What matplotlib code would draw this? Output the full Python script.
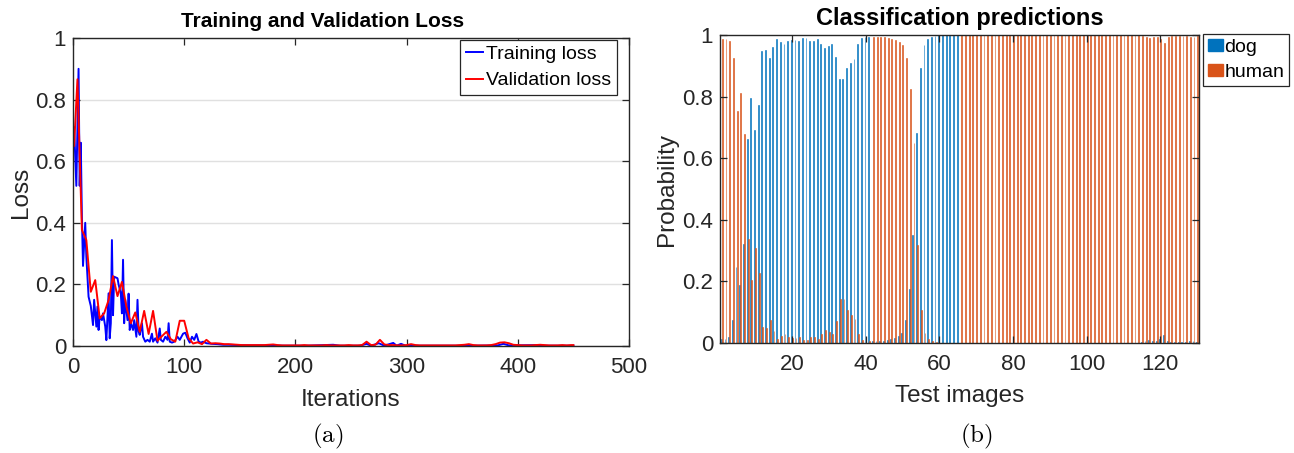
import matplotlib

matplotlib.use("Agg")
import matplotlib.pyplot as plt
from matplotlib.patches import Patch

plt.rcParams["font.family"] = ["Liberation Sans", "DejaVu Sans"]
plt.rcParams["mathtext.fontset"] = "cm"

# ---- (a) training / validation loss ----
train_iter = [
    1, 3, 5, 6, 7, 8, 9, 11, 12, 14, 16, 18, 19, 21, 22, 23, 24, 26, 27, 29,
    30, 32, 33, 34, 35, 36, 37, 40, 41, 43, 44, 45, 46, 47, 49, 50, 51, 52, 54, 55,
    57, 58, 59, 60, 62, 63, 65, 67, 69, 71, 72, 74, 76, 78, 79, 81, 83, 85, 86, 87,
    89, 91, 94, 96, 99, 101, 103, 105, 107, 109, 111, 113, 115, 117, 120, 125, 130, 135, 140, 148,
    160, 175, 190, 210, 234, 240, 258, 264, 268, 275, 280, 288, 291, 295, 299, 330, 360, 382, 387, 392,
    420, 424, 450,
]
train_loss = [
    0.71, 0.52, 0.90, 0.52, 0.66, 0.42, 0.26, 0.40, 0.29, 0.16, 0.13, 0.068, 0.15, 0.063, 0.128, 0.052, 0.095, 0.084, 0.106, 0.063,
    0.019, 0.171, 0.025, 0.074, 0.344, 0.10, 0.225, 0.22, 0.20, 0.17, 0.106, 0.28, 0.074, 0.15, 0.084, 0.17, 0.052, 0.074, 0.052, 0.084,
    0.03, 0.15, 0.047, 0.036, 0.074, 0.03, 0.014, 0.02, 0.014, 0.04, 0.014, 0.025, 0.011, 0.057, 0.02, 0.014, 0.03, 0.02, 0.074, 0.014,
    0.011, 0.014, 0.03, 0.02, 0.04, 0.043, 0.025, 0.011, 0.03, 0.02, 0.039, 0.014, 0.011, 0.014, 0.009, 0.007, 0.006, 0.004, 0.004, 0.003,
    0.002, 0.002, 0.001, 0.001, 0.004, 0.001, 0.001, 0.007, 0.001, 0.009, 0.001, 0.010, 0.001, 0.007, 0.001, 0.001, 0.001, 0.002, 0.007, 0.002,
    0.003, 0.001, 0.001,
]
val_iter = [1] + list(range(4, 449, 4)) + [450]
val_loss = [
    0.650, 0.866, 0.377, 0.344, 0.176, 0.214, 0.090, 0.106, 0.149, 0.227, 0.162,
    0.208, 0.128, 0.074, 0.109, 0.046, 0.114, 0.039, 0.114, 0.017, 0.032, 0.046,
    0.022, 0.014, 0.082, 0.082, 0.025, 0.008, 0.012, 0.006, 0.020, 0.008, 0.009,
    # 132 - 256
    0.008, 0.006, 0.006, 0.005, 0.004, 0.003, 0.003, 0.003, 0.003, 0.003, 0.003, 0.004, 0.005, 0.003, 0.002, 0.002,
    0.002, 0.002, 0.002, 0.003, 0.002, 0.002, 0.002, 0.002, 0.003, 0.002, 0.002, 0.002, 0.002, 0.003, 0.002, 0.002,
    # 260 - 384
    0.003, 0.014, 0.003, 0.004, 0.020, 0.005, 0.003, 0.003, 0.002, 0.002, 0.003, 0.006, 0.003, 0.002, 0.002, 0.002,
    0.002, 0.002, 0.002, 0.002, 0.002, 0.002, 0.003, 0.004, 0.006, 0.003, 0.002, 0.002, 0.002, 0.003, 0.006, 0.011,
    # 388 - 450
    0.012, 0.009, 0.004, 0.003, 0.002, 0.002, 0.002, 0.003, 0.004, 0.003, 0.002, 0.002, 0.002, 0.003, 0.002, 0.003,
    0.003,
]

# ---- (b) class probabilities per test image ----
dog_prob = [
    0.014, 0.014, 0.020, 0.074, 0.246, 0.187, 0.322, 0.661, 0.795, 0.693,
    0.773, 0.947, 0.950, 0.924, 0.961, 0.988, 0.977, 0.972, 0.980, 0.985,
    0.983, 0.980, 0.991, 0.991, 0.980, 0.980, 0.987, 0.972, 0.959, 0.963,
    0.972, 0.930, 0.858, 0.858, 0.894, 0.910, 0.923, 0.970, 0.990, 0.995,
    0.995, 0.005, 0.005, 0.005, 0.008, 0.010, 0.013, 0.017, 0.022, 0.034,
    0.074, 0.174, 0.350, 0.683, 0.894, 0.966, 0.988, 0.995, 0.998, 0.999,
    0.999, 1.000, 1.000, 1.000, 1.000, 0.001, 0.001, 0.001, 0.001, 0.001,
    0.001, 0.001, 0.001, 0.001, 0.001, 0.001, 0.001, 0.001, 0.001, 0.001,
    0.001, 0.001, 0.001, 0.001, 0.001, 0.001, 0.001, 0.001, 0.001, 0.001,
    0.001, 0.001, 0.001, 0.001, 0.001, 0.001, 0.001, 0.001, 0.001, 0.001,
    0.001, 0.001, 0.001, 0.001, 0.001, 0.001, 0.001, 0.001, 0.001, 0.001,
    0.001, 0.001, 0.001, 0.001, 0.002, 0.005, 0.010, 0.008, 0.008, 0.014,
    0.025, 0.006, 0.004, 0.003, 0.002, 0.002, 0.003, 0.005, 0.006, 0.004,
]
human_prob = [
    0.986, 0.986, 0.980, 0.926, 0.754, 0.813, 0.678, 0.339, 0.205, 0.307,
    0.227, 0.053, 0.050, 0.076, 0.039, 0.012, 0.023, 0.028, 0.020, 0.015,
    0.017, 0.020, 0.009, 0.009, 0.020, 0.020, 0.013, 0.028, 0.041, 0.037,
    0.028, 0.070, 0.142, 0.142, 0.106, 0.090, 0.077, 0.030, 0.010, 0.005,
    0.005, 0.995, 0.995, 0.995, 0.992, 0.990, 0.987, 0.983, 0.978, 0.966,
    0.926, 0.826, 0.650, 0.317, 0.106, 0.034, 0.012, 0.005, 0.002, 0.001,
    0.001, 0.000, 0.000, 0.000, 0.000, 0.999, 0.999, 0.999, 0.999, 0.999,
    0.999, 0.999, 0.999, 0.999, 0.999, 0.999, 0.999, 0.999, 0.999, 0.999,
    0.999, 0.999, 0.999, 0.999, 0.999, 0.999, 0.999, 0.999, 0.999, 0.999,
    0.999, 0.999, 0.999, 0.999, 0.999, 0.999, 0.999, 0.999, 0.999, 0.999,
    0.999, 0.999, 0.999, 0.999, 0.999, 0.999, 0.999, 0.999, 0.999, 0.999,
    0.999, 0.999, 0.999, 0.999, 0.998, 0.995, 0.990, 0.992, 0.992, 0.986,
    0.975, 0.994, 0.996, 0.997, 0.998, 0.998, 0.997, 0.995, 0.994, 0.996,
]
image_index = list(range(1, len(dog_prob) + 1))

y_ticks = [0, 0.2, 0.4, 0.6, 0.8, 1]
y_tick_labels = ["0", "0.2", "0.4", "0.6", "0.8", "1"]

W, H = 1294, 453
AX_COLOR = "#262626"
DOG_COLOR = "#0072BD"
HUMAN_COLOR = "#D95319"

fig = plt.figure(figsize=(W / 100, H / 100), dpi=100)


def px_axes(left, top, right, bottom):
    return fig.add_axes([left / W, (H - bottom) / H, (right - left) / W, (bottom - top) / H])


def style_axes(axis):
    for spine in axis.spines.values():
        spine.set_color(AX_COLOR)
        spine.set_linewidth(1.0)
    axis.tick_params(direction="in", length=5, width=0.9, top=True, right=True,
                     colors=AX_COLOR, labelsize=16)
    axis.tick_params(axis="x", pad=8)
    axis.tick_params(axis="y", pad=5)
    axis.set_yticks(y_ticks)
    axis.set_yticklabels(y_tick_labels)
    axis.set_ylim(0, 1)


# (a)
ax1 = px_axes(73, 38, 629, 346)
style_axes(ax1)
ax1.yaxis.grid(True, color="#e0e0e0", linewidth=1.0)
ax1.set_axisbelow(True)
ax1.plot(train_iter, train_loss, color="#0000FF", linewidth=1.4, label="Training loss")
ax1.plot(val_iter, val_loss, color="#FF0000", linewidth=1.4, label="Validation loss")
ax1.set_xlim(0, 500)
ax1.set_xticks([0, 100, 200, 300, 400, 500])
ax1.set_title("Training and Validation Loss", fontsize=15, fontweight="bold", pad=8, x=0.448)
ax1.set_xlabel("Iterations", fontsize=17.5, color=AX_COLOR, labelpad=8)
ax1.set_ylabel("Loss", fontsize=17.5, color=AX_COLOR, labelpad=2)
leg1 = ax1.legend(loc="upper right", bbox_to_anchor=(0.979, 0.995), borderaxespad=0,
                  fontsize=14, fancybox=False, framealpha=1, edgecolor=AX_COLOR,
                  handlelength=0.9, handletextpad=0.15, borderpad=0.3, labelspacing=0.45)
leg1.get_frame().set_linewidth(0.9)

# (b)
ax2 = px_axes(720, 35, 1199, 343)
style_axes(ax2)
bar_w = 0.23
ax2.bar([i - 0.143 for i in image_index], dog_prob, width=bar_w, color=DOG_COLOR,
        edgecolor=DOG_COLOR, linewidth=0.4)
ax2.bar([i + 0.143 for i in image_index], human_prob, width=bar_w, color=HUMAN_COLOR,
        edgecolor=HUMAN_COLOR, linewidth=0.4)
ax2.set_xlim(0.5, len(dog_prob) + 0.5)
ax2.set_xticks([20, 40, 60, 80, 100, 120])
ax2.set_title("Classification predictions", fontsize=17, fontweight="bold", pad=7)
ax2.set_xlabel("Test images", fontsize=17.5, color=AX_COLOR, labelpad=7)
ax2.set_ylabel("Probability", fontsize=17.5, color=AX_COLOR, labelpad=3)
handles = [Patch(color=DOG_COLOR, label="dog"), Patch(color=HUMAN_COLOR, label="human")]
leg2 = ax2.legend(handles=handles, loc="upper left", bbox_to_anchor=(1.008, 1.003), borderaxespad=0,
                  fontsize=14, fancybox=False, framealpha=1, edgecolor=AX_COLOR,
                  handlelength=0.8, handleheight=0.6, handletextpad=0.05, borderpad=0.25,
                  labelspacing=0.4)
leg2.get_frame().set_linewidth(0.9)

fig.text(328 / W, 1 - 436 / H, r"$\mathrm{(a)}$", fontsize=18, ha="center", va="center")
fig.text(976 / W, 1 - 436 / H, r"$\mathrm{(b)}$", fontsize=18, ha="center", va="center")

fig.savefig("out.png", dpi=100)
